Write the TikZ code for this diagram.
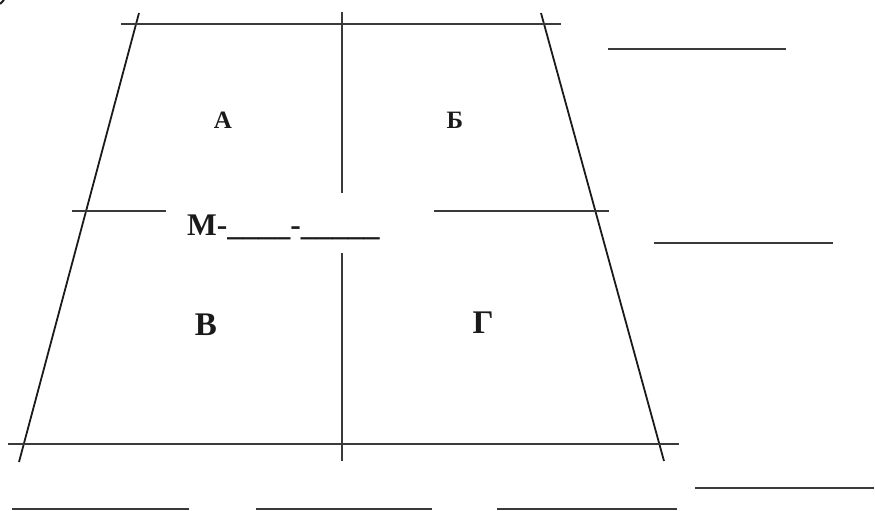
\documentclass[tikz,border=0pt]{standalone}
\usepackage{fontspec}
\setmainfont{Liberation Serif}
\usetikzlibrary{positioning,calc}
\definecolor{ink}{HTML}{1A1A1A}
\definecolor{rulegray}{HTML}{3A3A3A}

\begin{document}
\begin{tikzpicture}[x=1pt, y=-1pt,
  rule/.style={rulegray, line width=2pt},
  side/.style={ink, line width=1.8pt},
  blank/.style={rulegray, line width=2pt},
  bigletter/.style={inner sep=0pt, anchor=base, text=ink, font=\fontsize{33}{35}\selectfont\bfseries},
  smallletter/.style={inner sep=0pt, anchor=base, text=ink, font=\fontsize{25}{27}\selectfont\bfseries}
]
\useasboundingbox (0,0) rectangle (875,511);

% trapezoid corners
\coordinate (tl) at (139,13);
\coordinate (bl) at (19,462);
\coordinate (tr) at (541,13);
\coordinate (br) at (664,461);

% sides
\draw[side] (tl) -- (bl);
\draw[side] (tr) -- (br);
\draw[side] (0,4) -- (4,0);

% top and bottom
\draw[rule] (121,24) -- (561,24);
\draw[rule] (8,444) -- (679,444);

% middle lines
\draw[rule] (72,211) -- (166,211);
\draw[rule] (434,211) -- (609,211);
\draw[rule] (342,12) -- (342,193);
\draw[rule] (342,253) -- (342,461);

% labels
\node[smallletter] (a) at (223,128) {А};
\node[smallletter] (b) at (455,128) {Б};
\node[bigletter] (v) at (206,335) {В};
\node[bigletter] (g) at (483,333) {Г};
\node[inner sep=0pt, anchor=base west, text=ink,
  font=\fontsize{31.5}{33}\selectfont\bfseries] (m) at (187,235) {М-\_\_\_\_-\_\_\_\_\_};

% blanks
\draw[blank] (608,49) -- (786,49);
\draw[blank] (654,243) -- (833,243);
\draw[blank] (695,488) -- (874,488);
\draw[blank] (12,509) -- (189,509);
\draw[blank] (256,509) -- (432,509);
\draw[blank] (497,509) -- (677,509);
\end{tikzpicture}
\end{document}
